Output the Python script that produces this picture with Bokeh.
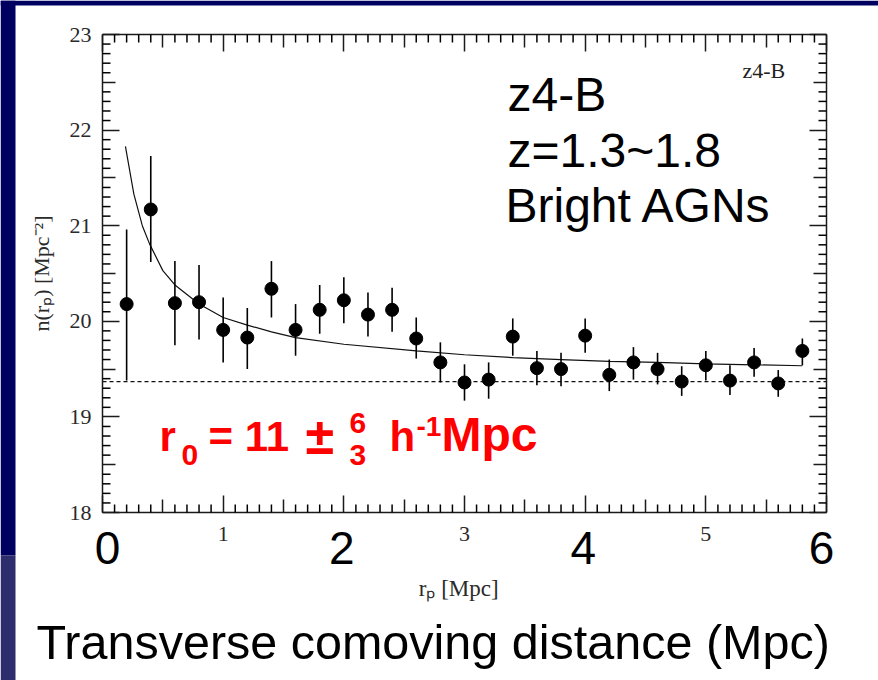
from bokeh.plotting import figure
from bokeh.models import Range1d, FixedTicker, LinearAxis, Label, BoxAnnotation, ColumnDataSource
from bokeh.embed import file_html
from bokeh.resources import INLINE

# ---------------- data ----------------
r_p = [0.2, 0.4, 0.6, 0.8, 1.0, 1.2, 1.4, 1.6, 1.8, 2.0, 2.2, 2.4, 2.6, 2.8, 3.0,
       3.2, 3.4, 3.6, 3.8, 4.0, 4.2, 4.4, 4.6, 4.8, 5.0, 5.2, 5.4, 5.6, 5.8]
n_rp = [20.18, 21.17, 20.19, 20.20, 19.91, 19.83, 20.34, 19.91, 20.12, 20.22, 20.07, 20.12, 19.82, 19.57, 19.36,
        19.39, 19.84, 19.51, 19.50, 19.85, 19.44, 19.57, 19.50, 19.37, 19.54, 19.38, 19.57, 19.35, 19.69]
n_lo = [19.38, 20.62, 19.75, 19.81, 19.57, 19.50, 20.04, 19.64, 19.87, 19.98, 19.84, 19.89, 19.61, 19.36, 19.17,
        19.19, 19.64, 19.33, 19.32, 19.67, 19.27, 19.39, 19.34, 19.22, 19.38, 19.23, 19.42, 19.21, 19.54]
n_hi = [20.96, 21.73, 20.63, 20.59, 20.25, 20.14, 20.63, 20.18, 20.38, 20.46, 20.30, 20.35, 20.04, 19.78, 19.55,
        19.57, 20.03, 19.69, 19.67, 20.03, 19.60, 19.73, 19.67, 19.53, 19.69, 19.54, 19.72, 19.49, 19.82]

fit_r = [0.19, 0.26, 0.33, 0.39, 0.5, 0.6, 0.8, 1.0, 1.2, 1.4, 1.6, 2.0, 2.6, 3.0, 3.4, 3.8, 4.2, 4.6, 5.0, 5.4, 5.8]
fit_n = [21.83, 21.33, 21.00, 20.81, 20.53, 20.38, 20.18, 20.04, 19.96, 19.89, 19.83, 19.76, 19.69, 19.65, 19.62,
         19.60, 19.58, 19.57, 19.555, 19.545, 19.535]

n_background = 19.37

x_major = [0, 1, 2, 3, 4, 5, 6]
x_small_labels = {0: "", 1: "1", 2: "", 3: "3", 4: "", 5: "5", 6: ""}
x_big_labels = ["0", "2", "4", "6"]
x_big_ticks = [0, 2, 4, 6]
y_major = [18, 19, 20, 21, 22, 23]
x_half = [0.5, 1.5, 2.5, 3.5, 4.5, 5.5]
y_half = [18.5, 19.5, 20.5, 21.5, 22.5]
x_minor = [round(i / 10, 1) for i in range(1, 60) if i % 5]
y_minor = [round(18 + i / 10, 1) for i in range(1, 50) if i % 5]
x_lim = (0, 6)
y_lim = (18, 23)

x_title = "rₚ   [Mpc]"
y_title = "n(rₚ) [Mpc⁻²]"
slide_lines = ["z4-B", "z=1.3~1.8", "Bright AGNs"]
slide_title = "Transverse comoving distance (Mpc)"

# ---------------- layout: plot frame at pixels (102..826, 34..512) ----------------
W, H = 878, 680
FX0, FX1, FY0, FY1 = 102, 826, 34, 512
KX = (FX1 - FX0) / (x_lim[1] - x_lim[0])
KY = (FY1 - FY0) / (y_lim[1] - y_lim[0])

def cx(px):  # canvas pixel -> data x
    return x_lim[0] + (px - FX0) / KX

def cy(py):  # canvas pixel -> data y
    return y_lim[1] - (py - FY0) / KY

p = figure(width=W, height=H, x_range=Range1d(cx(0), cx(W)), y_range=Range1d(cy(H), cy(0)),
           output_backend="svg", toolbar_location=None,
           min_border_left=0, min_border_right=0, min_border_top=0, min_border_bottom=0)
p.xgrid.visible = False
p.ygrid.visible = False
p.background_fill_color = "white"
p.border_fill_color = "white"
p.outline_line_color = None

AXC = "#1a1a1a"
SERIF = "Liberation Serif"
TICK_W = 1.5

def style(ax, ticks, overrides, loc, bounds, tick_len=17, line=True):
    ax.fixed_location = loc
    ax.bounds = bounds
    ax.ticker = FixedTicker(ticks=ticks)
    ax.major_tick_in = tick_len
    ax.major_tick_out = 0
    ax.minor_tick_line_color = None
    ax.axis_line_color = AXC if line else None
    ax.axis_line_width = 1.5
    ax.major_tick_line_color = AXC
    ax.major_tick_line_width = TICK_W
    ax.major_label_overrides = overrides
    ax.major_label_text_font = SERIF
    ax.major_label_text_font_size = "22px"
    ax.major_label_text_color = "#2a2a2a"
    ax.axis_label_text_font = SERIF
    ax.axis_label_text_font_size = "22px"
    ax.axis_label_text_font_style = "normal"
    ax.axis_label_text_color = "#2a2a2a"

xb = p.xaxis[0]
style(xb, x_major, x_small_labels, y_lim[0], x_lim)
xb.major_label_standoff = 14
xb.axis_label = x_title
xb.axis_label_text_font_size = "23px"
xb.axis_label_standoff = 32

yl = p.yaxis[0]
style(yl, y_major, {}, x_lim[0], y_lim)
yl.major_label_standoff = 11
yl.axis_label = y_title
yl.axis_label_standoff = 13

xt = LinearAxis()
style(xt, x_major, {t: "" for t in x_major}, y_lim[1], x_lim)
p.add_layout(xt, "above")
yr = LinearAxis()
style(yr, y_major, {t: "" for t in y_major}, x_lim[1], y_lim)
p.add_layout(yr, "right")

# half-unit ticks (13 px): extra unlabelled axes on the same frame edges
for side, loc in [("below", y_lim[0]), ("above", y_lim[1])]:
    ax = LinearAxis()
    style(ax, x_half, {t: "" for t in x_half}, loc, x_lim, tick_len=13, line=False)
    p.add_layout(ax, side)
for side, loc in [("left", x_lim[0]), ("right", x_lim[1])]:
    ax = LinearAxis()
    style(ax, y_half, {t: "" for t in y_half}, loc, y_lim, tick_len=13, line=False)
    p.add_layout(ax, side)

# tenth-unit ticks (8 px long), pointing into the frame
MINOR_PX = 8
nx, ny = len(x_minor), len(y_minor)
minor_src = [
    dict(x0=x_minor, y0=[y_lim[0]] * nx, x1=x_minor, y1=[y_lim[0] + MINOR_PX / KY] * nx),
    dict(x0=x_minor, y0=[y_lim[1]] * nx, x1=x_minor, y1=[y_lim[1] - MINOR_PX / KY] * nx),
    dict(x0=[x_lim[0]] * ny, y0=y_minor, x1=[x_lim[0] + MINOR_PX / KX] * ny, y1=y_minor),
    dict(x0=[x_lim[1]] * ny, y0=y_minor, x1=[x_lim[1] - MINOR_PX / KX] * ny, y1=y_minor),
]
for d in minor_src:
    p.segment(x0="x0", y0="y0", x1="x1", y1="y1", source=ColumnDataSource(d),
              line_color="black", line_width=TICK_W, level="overlay")

# slide background decorations
NAVY = "#000060"
p.add_layout(BoxAnnotation(left=cx(0), right=cx(W), top=cy(0), bottom=cy(5),
                           fill_color=NAVY, fill_alpha=1, line_alpha=0))
p.add_layout(BoxAnnotation(left=cx(0), right=cx(15), top=cy(0), bottom=cy(555),
                           fill_color=NAVY, fill_alpha=1, line_alpha=0))
p.add_layout(BoxAnnotation(left=cx(0), right=cx(15), top=cy(555), bottom=cy(H),
                           fill_color="#2e2d6e", fill_alpha=1, line_alpha=0))

# data
src = ColumnDataSource(dict(r=r_p, n=n_rp, lo=n_lo, hi=n_hi))
p.line(list(x_lim), [n_background, n_background], line_color="#111111", line_width=1.2, line_dash="4 3")
p.line(fit_r, fit_n, line_color="#111111", line_width=1.2)
p.segment(x0="r", y0="lo", x1="r", y1="hi", source=src, line_color="black", line_width=1.6)
p.scatter("r", "n", source=src, size=13, color="black")

BASE_K = 0.42  # offset of the rendered baseline, as a fraction of the font size

def lab(text, px, baseline, size, color="black", font="Liberation Sans", style="normal", align="left"):
    p.add_layout(Label(x=cx(px), y=cy(baseline - BASE_K * size), text=text, text_font=font,
                       text_font_size=f"{size}px", text_color=color, text_font_style=style,
                       text_align=align, text_baseline="alphabetic"))

for t, s, dx in zip(x_big_ticks, x_big_labels, [5, -2, -2, -5]):
    p.add_layout(Label(x=t, y=cy(567 - BASE_K * 46), x_offset=dx, text=s, text_font="Liberation Sans",
                       text_font_size="46px", text_color="black", text_align="center",
                       text_baseline="alphabetic"))

lab(slide_lines[0], 507, 114, 48)
lab(slide_lines[1], 507, 170, 48)
lab(slide_lines[2], 505, 225, 48)
lab("z4-B", 742, 79, 22, color="#222222", font=SERIF)
lab(slide_title, 36, 662, 48.5)

RED = "#ff0000"
lab("r", 159, 454, 42, RED, style="bold")
lab("0", 181, 467, 30, RED, style="bold")
lab("= 11", 208, 454, 42, RED, style="bold")
lab("±", 305, 457, 52, RED, style="bold")
lab("6", 349, 435, 30, RED, style="bold")
lab("3", 349, 467, 30, RED, style="bold")
lab("h", 389, 454, 42, RED, style="bold")
lab("-1", 416, 438, 28, RED, style="bold")
lab("Mpc", 441, 454, 48, RED, style="bold")

open("out.html", "w").write(file_html(p, INLINE))
